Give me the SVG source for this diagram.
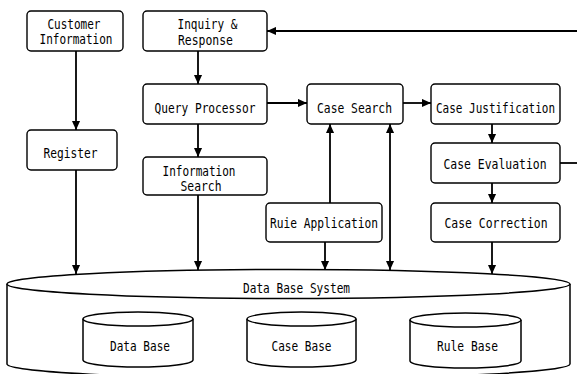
<svg xmlns="http://www.w3.org/2000/svg" width="577" height="374" viewBox="0 0 577 374">
  <defs>
    <style>
      .box { fill: #fff; stroke: #000; stroke-width: 1.4; }
      .db { fill: #fff; stroke: #000; stroke-width: 1.5; }
      .lbl { font-family: "DejaVu Sans Mono", "Liberation Mono", monospace; font-size: 14px; fill: #000; text-anchor: middle; }
      .wire { fill: none; stroke: #000; stroke-width: 1.8; }
    </style>
    <marker id="arrow" viewBox="0 0 10 10" refX="10" refY="5" markerWidth="9" markerHeight="9" markerUnits="userSpaceOnUse" orient="auto-start-reverse">
      <path d="M0,0.5 L10,5 L0,9.5 Z" fill="#000"/>
    </marker>
  </defs>
  <rect width="577" height="374" fill="#fff"/>

  <!-- Data base system cylinder (drawn first, sits under the arrows) -->
  <g id="data-base-system">
    <path class="db" d="M7,284 V364 A281.5,14.5 0 0 0 570,364 V284"/>
    <ellipse class="db" cx="288.5" cy="284" rx="281.5" ry="14.5"/>
    <text class="lbl" x="296.5" y="292.5" textLength="107" lengthAdjust="spacingAndGlyphs">Data Base System</text>
  </g>

  <g id="data-base">
    <path class="db" d="M83,319 V360 A55,7 0 0 0 193,360 V319"/>
    <ellipse class="db" cx="138" cy="319" rx="55" ry="7"/>
    <text class="lbl" x="140" y="350.5" textLength="60" lengthAdjust="spacingAndGlyphs">Data Base</text>
  </g>

  <g id="case-base">
    <path class="db" d="M247,319 V360 A54.5,7 0 0 0 356,360 V319"/>
    <ellipse class="db" cx="301.5" cy="319" rx="54.5" ry="7"/>
    <text class="lbl" x="301.5" y="350.5" textLength="60" lengthAdjust="spacingAndGlyphs">Case Base</text>
  </g>

  <g id="rule-base">
    <path class="db" d="M410,320 V361 A55.5,7 0 0 0 521,361 V320"/>
    <ellipse class="db" cx="465.5" cy="320" rx="55.5" ry="7"/>
    <text class="lbl" x="467.5" y="350.5" textLength="61" lengthAdjust="spacingAndGlyphs">Rule Base</text>
  </g>

  <!-- Process boxes -->
  <g id="customer-information">
    <rect class="box" x="27" y="11" width="96" height="40" rx="4"/>
    <text class="lbl" x="74" y="29" textLength="53" lengthAdjust="spacingAndGlyphs">Customer</text>
    <text class="lbl" x="76" y="44" textLength="73" lengthAdjust="spacingAndGlyphs">Information</text>
  </g>

  <g id="inquiry-response">
    <rect class="box" x="143" y="11" width="124" height="40" rx="4"/>
    <text class="lbl" x="207.5" y="29" textLength="60" lengthAdjust="spacingAndGlyphs">Inquiry &amp;</text>
    <text class="lbl" x="205.5" y="45" textLength="55" lengthAdjust="spacingAndGlyphs">Response</text>
  </g>

  <g id="query-processor">
    <rect class="box" x="143" y="84" width="124" height="40" rx="4"/>
    <text class="lbl" x="205" y="112.5" textLength="101" lengthAdjust="spacingAndGlyphs">Query Processor</text>
  </g>

  <g id="register">
    <rect class="box" x="27" y="130" width="90" height="40" rx="4"/>
    <text class="lbl" x="70.5" y="158" textLength="54" lengthAdjust="spacingAndGlyphs">Register</text>
  </g>

  <g id="information-search">
    <rect class="box" x="143" y="157" width="124" height="38" rx="4"/>
    <text class="lbl" x="199" y="175.5" textLength="73" lengthAdjust="spacingAndGlyphs">Information</text>
    <text class="lbl" x="201" y="190.5" textLength="41" lengthAdjust="spacingAndGlyphs">Search</text>
  </g>

  <g id="case-search">
    <rect class="box" x="307" y="84" width="96" height="40" rx="4"/>
    <text class="lbl" x="354.5" y="112.5" textLength="75" lengthAdjust="spacingAndGlyphs">Case Search</text>
  </g>

  <g id="case-justification">
    <rect class="box" x="431" y="84" width="129" height="40" rx="4"/>
    <!-- long label: squeezed horizontally to fit the box -->
    <text class="lbl" transform="translate(495.5,112.5) scale(0.785,1)">Case Justification</text>
  </g>

  <g id="case-evaluation">
    <rect class="box" x="431" y="143" width="129" height="40" rx="4"/>
    <text class="lbl" x="495" y="169" textLength="103" lengthAdjust="spacingAndGlyphs">Case Evaluation</text>
  </g>

  <g id="rule-application">
    <rect class="box" x="266" y="203" width="116" height="39" rx="4"/>
    <text class="lbl" x="324" y="228" textLength="108" lengthAdjust="spacingAndGlyphs">Ruie Application</text>
  </g>

  <g id="case-correction">
    <rect class="box" x="431" y="203" width="129" height="39" rx="4"/>
    <text class="lbl" x="496" y="228" textLength="103" lengthAdjust="spacingAndGlyphs">Case Correction</text>
  </g>

  <!-- Connectors -->
  <g id="connectors">
    <path class="wire" d="M577,31 H267" marker-end="url(#arrow)"/>
    <path class="wire" d="M198,51 V84" marker-end="url(#arrow)"/>
    <path class="wire" d="M267,103 H307" marker-end="url(#arrow)"/>
    <path class="wire" d="M403,103 H431" marker-end="url(#arrow)"/>
    <path class="wire" d="M492,124 V143" marker-end="url(#arrow)"/>
    <path class="wire" d="M560,163 H577"/>
    <path class="wire" d="M492,183 V203" marker-end="url(#arrow)"/>
    <path class="wire" d="M492,242 V274" marker-end="url(#arrow)"/>
    <path class="wire" d="M76,51 V130" marker-end="url(#arrow)"/>
    <path class="wire" d="M76,170 V274" marker-end="url(#arrow)"/>
    <path class="wire" d="M198,124 V157" marker-end="url(#arrow)"/>
    <path class="wire" d="M198,195 V270" marker-end="url(#arrow)"/>
    <path class="wire" d="M330,203 V124" marker-end="url(#arrow)"/>
    <path class="wire" d="M325,242 V270" marker-end="url(#arrow)"/>
    <path class="wire" d="M390,124 V270" marker-start="url(#arrow)" marker-end="url(#arrow)"/>
  </g>
</svg>
